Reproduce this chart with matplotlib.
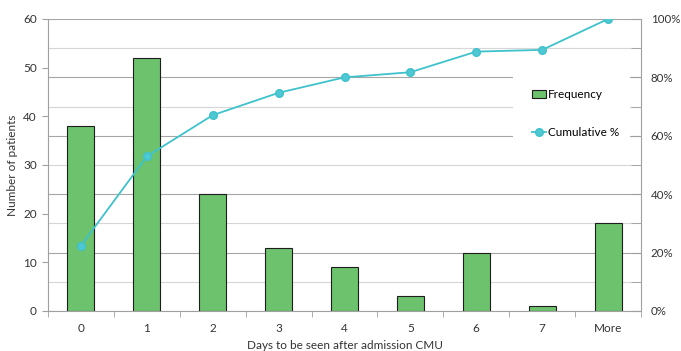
import matplotlib.pyplot as plt
import numpy as np
from matplotlib.ticker import FixedLocator, PercentFormatter

plt.rcParams['font.family'] = ['Lato', 'DejaVu Sans']

categories = ['0', '1', '2', '3', '4', '5', '6', '7', 'More']
frequency = [38, 52, 24, 13, 9, 3, 12, 1, 18]
cumulative_pct = [22.35, 52.94, 67.06, 74.71, 80.0, 81.76, 88.82, 89.41, 100.0]

grey = '#a0a0a0'
x = np.arange(len(categories))

fig = plt.figure(figsize=(6.81, 3.51), dpi=100)
ax = fig.add_axes([0.0705, 0.114, 0.8708, 0.832])
ax2 = ax.twinx()

# right axis sits behind so its gridlines are under the bars
ax2.set_zorder(0)
ax.set_zorder(1)
ax.patch.set_visible(False)

ax2.set_ylim(0, 100)
ax2.yaxis.set_major_locator(FixedLocator(np.arange(0, 101, 20)))
ax2.yaxis.set_minor_locator(FixedLocator(np.arange(10, 100, 20)))
ax2.yaxis.set_major_formatter(PercentFormatter(decimals=0))
ax2.grid(which='major', axis='y', color='#a6a6a6', lw=0.8)
ax2.grid(which='minor', axis='y', color='#d6d6d6', lw=0.8)
ax2.tick_params(axis='y', which='both', direction='in', length=7, color=grey,
                labelsize=8.3, pad=7, labelcolor='#333333')
for s in ['top', 'left', 'bottom']:
    ax2.spines[s].set_visible(False)
ax2.spines['right'].set_color(grey)

bars = ax.bar(x, frequency, width=0.41, color='#6dc26d', edgecolor='#1e1e1e',
              linewidth=0.8, label='Frequency', zorder=2)
line, = ax.plot(x, cumulative_pct, transform=ax2.transData, color='#3ec2cc',
                lw=1.3, marker='o', markersize=5.5, markerfacecolor='#4ec8d2',
                markeredgecolor='#3ec2cc', label='Cumulative %', zorder=3)

ax.set_xlim(-0.5, len(categories) - 0.5)
ax.set_ylim(0, 60)
ax.set_yticks(np.arange(0, 61, 10))
ax.set_xticks(x)
ax.set_xticklabels(categories)
ax.set_xticks(np.arange(-0.5, len(categories), 1), minor=True)
ax.tick_params(axis='x', which='major', length=0, labelsize=8.5, pad=9,
               labelcolor='#333333')
ax.tick_params(axis='x', which='minor', length=4, color=grey)
ax.tick_params(axis='y', length=4, color=grey, labelsize=8.5, pad=4,
               labelcolor='#333333')
for s in ['top', 'right']:
    ax.spines[s].set_visible(False)
ax.spines['left'].set_color(grey)
ax.spines['bottom'].set_color(grey)

ax.set_ylabel('Number of patients', fontsize=8.5, color='#333333', labelpad=4)
ax.set_xlabel('Days to be seen after admission CMU', fontsize=8.5,
              color='#333333', labelpad=4)

leg = ax.legend([bars, line], ['Frequency', 'Cumulative %'], loc='upper left',
                bbox_to_anchor=(0.784, 0.0, 0.197, 0.825), mode='expand',
                fontsize=8.5, frameon=True, fancybox=False, borderpad=1.6,
                labelspacing=2.3, handlelength=1.2, handletextpad=0.15,
                borderaxespad=0)
leg.get_frame().set_facecolor('white')
leg.get_frame().set_edgecolor('none')
leg.get_frame().set_alpha(1)

fig.savefig('out.png', dpi=100)
